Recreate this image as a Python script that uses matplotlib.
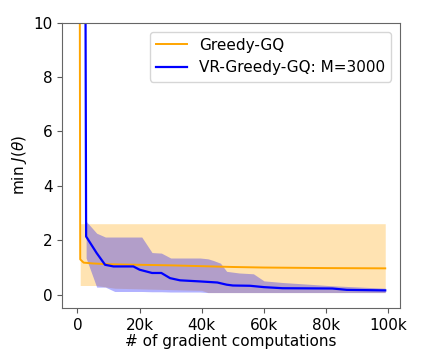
import numpy as np
import matplotlib
matplotlib.use("Agg")
import matplotlib.pyplot as plt

# Greedy-GQ (mean curve + band)
gq_x = [700, 900, 2000, 5000, 10000, 20000, 30000, 40000, 50000, 60000, 70000, 80000, 99000]
gq_y = [15.0, 1.3, 1.18, 1.15, 1.12, 1.1, 1.08, 1.05, 1.02, 1.0, 0.99, 0.98, 0.97]
gq_band_x = [900, 6000, 12000, 40000, 42000, 99000]
gq_lo = [0.34, 0.34, 0.24, 0.16, 0.08, 0.08]
gq_hi = [2.61, 2.61, 2.61, 2.61, 2.61, 2.61]

# VR-Greedy-GQ, M=3000
vr_x = [2500, 2800, 6200, 8900, 11600, 18000, 20000, 24000, 27000, 29800, 33000,
        39400, 45000, 48000, 50000, 55500, 60000, 66000, 82000, 86600, 99000]
vr_y = [15.0, 2.14, 1.53, 1.10, 1.04, 1.04, 0.92, 0.80, 0.80, 0.61, 0.53,
        0.49, 0.45, 0.37, 0.34, 0.33, 0.28, 0.24, 0.23, 0.18, 0.16]
vr_band_x = [2800, 6200, 9000, 12000, 20000, 20700, 24000, 27000, 30000, 36000, 39400,
             42000, 43700, 46000, 48000, 52000, 56600, 60000, 66000, 82000, 99000]
vr_hi = [2.70, 2.26, 2.12, 2.12, 2.12, 2.12, 1.55, 1.53, 1.35, 1.35, 1.35,
         1.32, 1.26, 1.16, 0.86, 0.80, 0.77, 0.51, 0.45, 0.33, 0.24]
vr_lo = [1.35, 0.28, 0.28, 0.12, 0.12, 0.12, 0.11, 0.11, 0.10, 0.10, 0.10,
         0.08, 0.08, 0.08, 0.08, 0.08, 0.08, 0.08, 0.08, 0.08, 0.08]

xticks = [0, 20000, 40000, 60000, 80000, 100000]
xticklabels = ['0', '20k', '40k', '60k', '80k', '100k']

fig = plt.figure(figsize=(4.23, 3.63), dpi=100)
ax = fig.add_axes([0.147, 0.152, 0.799, 0.786])

ax.fill_between(gq_band_x, gq_lo, gq_hi, color='orange', alpha=0.3, linewidth=0)
ax.fill_between(vr_band_x, vr_lo, vr_hi, color='blue', alpha=0.3, linewidth=0)
ax.plot(gq_x, gq_y, color='orange', lw=1.4, label='Greedy-GQ')
ax.plot(vr_x, vr_y, color='blue', lw=1.6, label='VR-Greedy-GQ: M=3000')

ax.set_xlim(-4900, 103800)
ax.set_ylim(-0.48, 10)
ax.set_xticks(xticks)
ax.set_xticklabels(xticklabels)
ax.set_yticks([0, 2, 4, 6, 8, 10])
ax.tick_params(labelsize=11, color='0.35')
for s in ax.spines.values():
    s.set_edgecolor('0.4')

ax.set_xlabel('# of gradient computations', fontsize=11, labelpad=1)
ax.set_ylabel(r'$\min\ J(\theta)$', fontsize=11, labelpad=3)
ax.legend(loc='upper right', fontsize=11, borderaxespad=0.6)

fig.savefig('out.png', dpi=100)
